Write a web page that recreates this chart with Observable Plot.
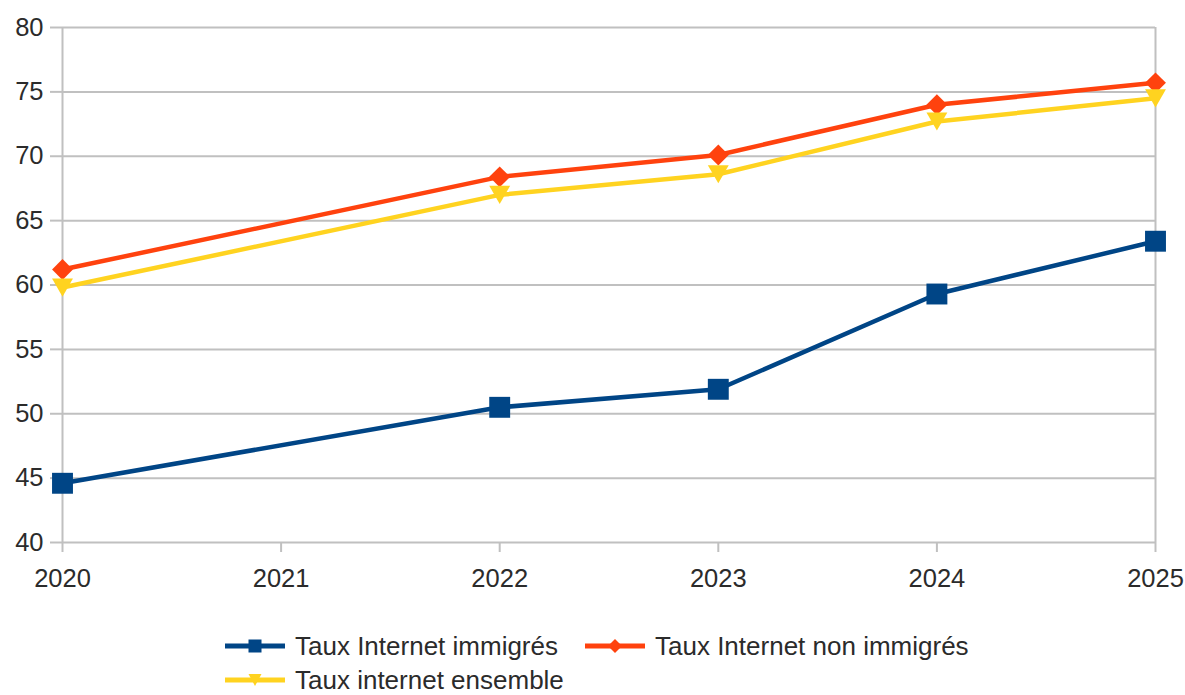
<!DOCTYPE html>
<html>
<head>
<meta charset="utf-8">
<script src="https://cdn.jsdelivr.net/npm/d3@7"></script>
<script src="https://cdn.jsdelivr.net/npm/@observablehq/plot@0.6"></script>
<style>
  html, body { margin: 0; padding: 0; background: #fff; }
  #wrap { position: relative; width: 1185px; height: 695px; font-family: "Liberation Sans", Arial, sans-serif; }
  #legend { position: absolute; left: 0; top: 0; width: 1185px; height: 695px; pointer-events: none; }
  .item { position: absolute; display: flex; align-items: center; height: 30px; font-size: 26px; line-height: 26px; color: #2b2b2b; white-space: nowrap; }
  .item svg { margin-right: 10px; display: block; }
</style>
</head>
<body>
<div id="wrap"><div id="chart"></div><div id="legend"></div></div>
<script>
const years = [2020, 2022, 2023, 2024, 2025];
const xTicks = [2020, 2021, 2022, 2023, 2024, 2025];
const yTicks = [40, 45, 50, 55, 60, 65, 70, 75, 80];
const seriesNames = ["Taux Internet immigrés", "Taux Internet non immigrés", "Taux internet ensemble"];
const immigres = [44.6, 50.5, 51.9, 59.3, 63.4];
const nonImmigres = [61.2, 68.4, 70.1, 74.0, 75.7];
const ensemble = [59.8, 67.0, 68.6, 72.7, 74.5];
const colors = ["#004586", "#ff420e", "#ffd320"];

const triangleDown = {
  draw(context, size) {
    const h = Math.sqrt(size) * 0.95;
    const w = h * 1.15;
    context.moveTo(-w / 2, -h / 2);
    context.lineTo(w / 2, -h / 2);
    context.lineTo(0, h / 2);
    context.closePath();
  }
};
const symbols = ["square", "diamond2", triangleDown];
const radii = [11.8, 9.4, 10.8];

const allValues = [immigres, nonImmigres, ensemble];
const data = [];
allValues.forEach((vals, si) => {
  vals.forEach((v, i) => data.push({ series: seriesNames[si], year: years[i], value: v, si }));
});

const gridColor = "#c0c0c0";
const marks = [
  Plot.gridY(yTicks, { stroke: gridColor, strokeOpacity: 1, strokeWidth: 2 }),
  Plot.ruleX([2020, 2025], { y1: 40, y2: 80, stroke: gridColor, strokeWidth: 2 }),
  Plot.axisY(yTicks, { tickSize: 12, tickPadding: 7, stroke: gridColor, strokeWidth: 2, fontSize: 25.5, fill: "#2b2b2b", label: null }),
  Plot.axisX(xTicks, { tickSize: 10, tickPadding: 16, stroke: gridColor, strokeWidth: 2, fontSize: 25.5, fill: "#2b2b2b", label: null, tickFormat: d => String(d) })
];
seriesNames.forEach((name, si) => {
  const d = data.filter(r => r.si === si);
  marks.push(Plot.line(d, { x: "year", y: "value", stroke: colors[si], strokeWidth: 4.5, strokeLinejoin: "round" }));
  marks.push(Plot.dot(d, { x: "year", y: "value", fill: colors[si], stroke: "none", symbol: () => symbols[si], r: radii[si] }));
});

const chart = Plot.plot({
  width: 1185,
  height: 620,
  marginLeft: 62,
  marginRight: 30,
  marginTop: 27,
  marginBottom: 78,
  style: { fontFamily: "'Liberation Sans', Arial, sans-serif", background: "#fff" },
  x: { type: "linear", domain: [2020, 2025] },
  y: { domain: [40, 80] },
  marks
});
document.getElementById("chart").appendChild(chart);

// Legend
const legendPos = [[225, 646], [585, 646], [225, 680]];
const legend = document.getElementById("legend");
seriesNames.forEach((name, si) => {
  const div = document.createElement("div");
  div.className = "item";
  div.style.left = legendPos[si][0] + "px";
  div.style.top = (legendPos[si][1] - 15) + "px";
  let marker;
  if (si === 0) marker = `<rect x="23.5" y="8.5" width="13" height="13" fill="${colors[0]}"/>`;
  else if (si === 1) marker = `<path d="M30,8 L37,15 L30,22 L23,15 Z" fill="${colors[1]}"/>`;
  else marker = `<path d="M23.5,9 L36.5,9 L30,21 Z" fill="${colors[2]}"/>`;
  div.innerHTML = `<svg width="60" height="30"><line x1="0" y1="15" x2="60" y2="15" stroke="${colors[si]}" stroke-width="5"/>${marker}</svg><span>${name}</span>`;
  legend.appendChild(div);
});
</script>
</body>
</html>
